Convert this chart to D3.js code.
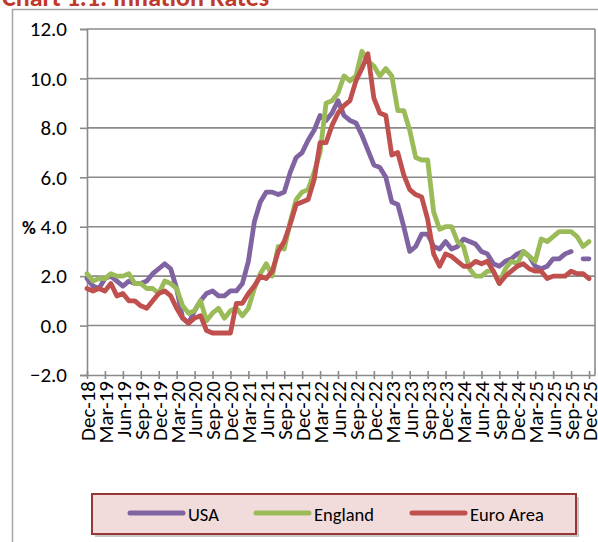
<!DOCTYPE html>
<html>
<head>
<meta charset="utf-8">
<script src="https://cdn.jsdelivr.net/npm/d3@7/dist/d3.min.js"></script>
<style>
  body { margin: 0; background: #fff; }
  svg { display: block; font-family: Carlito, Lato, "Open Sans", sans-serif; }
</style>
</head>
<body>
<div id="chart"></div>
<script>
const WIDTH = 598;
const HEIGHT = 542;

// monthly categories Dec-18 .. Dec-25
const months = d3.timeMonth.range(new Date(2018, 11, 1), new Date(2026, 0, 2)).map(d3.timeFormat("%b-%y"));
const yTicks = [-2, 0, 2, 4, 6, 8, 10, 12];

const usa = [
  1.9, 1.6, 1.5, 1.9, 2.0, 1.8, 1.6, 1.8, 1.7, 1.7, 1.8, 2.1,
  2.3, 2.5, 2.3, 1.5, 0.3, 0.1, 0.6, 1.0, 1.3, 1.4, 1.2, 1.2,
  1.4, 1.4, 1.7, 2.6, 4.2, 5.0, 5.4, 5.4, 5.3, 5.4, 6.2, 6.8,
  7.0, 7.5, 7.9, 8.5, 8.3, 8.6, 9.1, 8.5, 8.3, 8.2, 7.7, 7.1,
  6.5, 6.4, 6.0, 5.0, 4.9, 4.0, 3.0, 3.2, 3.7, 3.7, 3.2, 3.1,
  3.4, 3.1, 3.2, 3.5, 3.4, 3.3, 3.0, 2.9, 2.5, 2.4, 2.6, 2.7,
  2.9, 3.0, 2.8, 2.4, 2.3, 2.4, 2.7, 2.7, 2.9, 3.0, null, 2.7,
  2.7
];
const england = [
  2.1, 1.8, 1.9, 1.9, 2.1, 2.0, 2.0, 2.1, 1.7, 1.7, 1.5, 1.5,
  1.3, 1.8, 1.7, 1.5, 0.8, 0.5, 0.6, 1.0, 0.2, 0.5, 0.7, 0.3,
  0.6, 0.7, 0.4, 0.7, 1.5, 2.1, 2.5, 2.0, 3.2, 3.1, 4.2, 5.1,
  5.4, 5.5, 6.2, 7.0, 9.0, 9.1, 9.4, 10.1, 9.9, 10.1, 11.1, 10.7,
  10.5, 10.1, 10.4, 10.1, 8.7, 8.7, 7.9, 6.8, 6.7, 6.7, 4.6, 3.9,
  4.0, 4.0, 3.4, 3.2, 2.3, 2.0, 2.0, 2.2, 2.2, 1.7, 2.3, 2.6,
  2.5, 3.0, 2.8, 2.6, 3.5, 3.4, 3.6, 3.8, 3.8, 3.8, 3.6, 3.2,
  3.4
];
const euroArea = [
  1.5, 1.4, 1.5, 1.4, 1.7, 1.2, 1.3, 1.0, 1.0, 0.8, 0.7, 1.0,
  1.3, 1.4, 1.2, 0.7, 0.3, 0.1, 0.3, 0.4, -0.2, -0.3, -0.3, -0.3,
  -0.3, 0.9, 0.9, 1.3, 1.6, 2.0, 1.9, 2.2, 3.0, 3.4, 4.1, 4.9,
  5.0, 5.1, 5.9, 7.4, 7.4, 8.1, 8.6, 8.9, 9.1, 9.9, 10.4, 11.0,
  9.2, 8.6, 8.5, 6.9, 7.0, 6.1, 5.5, 5.3, 5.2, 4.3, 2.9, 2.4,
  2.9, 2.8, 2.6, 2.4, 2.4, 2.6, 2.5, 2.6, 2.2, 1.7, 2.0, 2.2,
  2.4, 2.5, 2.3, 2.2, 2.2, 1.9, 2.0, 2.0, 2.0, 2.2, 2.1, 2.1,
  1.9
];

const series = [
  { name: "USA", values: usa, color: "#8064A2" },
  { name: "England", values: england, color: "#9BBB59" },
  { name: "Euro Area", values: euroArea, color: "#C0504D" },
];

const plot = { left: 87, right: 595, top: 29, bottom: 375 };
const GRID = "#8a8a8a";
const AXIS_FONT = 21;

const svg = d3.select("#chart").append("svg").attr("width", WIDTH).attr("height", HEIGHT);

// title, mostly cut off at the top
svg.append("text")
  .attr("x", 2).attr("y", 6)
  .attr("fill", "#C0392B")
  .attr("font-weight", "bold")
  .attr("font-size", 26)
  .text("Chart 1.1: Inflation Rates");

// outer frame
svg.append("path")
  .attr("d", `M12.5,${HEIGHT + 2} V9.5 H${WIDTH + 2}`)
  .attr("fill", "none")
  .attr("stroke", "#a6a6a6")
  .attr("stroke-width", 1.5);

const x = d3.scalePoint().domain(months).range([plot.left, plot.right]);
const y = d3.scaleLinear().domain([-2, 12]).range([plot.bottom, plot.top]);

// gridlines
svg.append("g")
  .selectAll("line")
  .data(yTicks.filter((d) => d > -2))
  .join("line")
  .attr("x1", plot.left).attr("x2", plot.right)
  .attr("y1", (d) => y(d)).attr("y2", (d) => y(d))
  .attr("stroke", GRID).attr("stroke-width", 1.6);

// right edge
svg.append("line")
  .attr("x1", plot.right).attr("x2", plot.right)
  .attr("y1", plot.top).attr("y2", plot.bottom)
  .attr("stroke", GRID).attr("stroke-width", 1.6);

// y axis
const yAxis = svg.append("g")
  .attr("transform", `translate(${plot.left},0)`)
  .call(d3.axisLeft(y).tickValues(yTicks).tickFormat(d3.format(".1f")).tickSize(7).tickPadding(13));
yAxis.select(".domain").attr("stroke", GRID).attr("stroke-width", 1.6);
yAxis.selectAll(".tick line").attr("stroke", GRID).attr("stroke-width", 1.6);
yAxis.selectAll(".tick text").attr("font-size", AXIS_FONT).attr("fill", "#000")
  .attr("font-family", "Carlito, Lato, sans-serif");

svg.append("text")
  .attr("x", 29).attr("y", y(4) + 1)
  .attr("text-anchor", "middle").attr("dominant-baseline", "central")
  .attr("font-size", 19).attr("font-weight", "bold")
  .text("%");

// x axis
const shownMonths = months.filter((d, i) => i % 3 === 0);
const xAxis = svg.append("g")
  .attr("transform", `translate(0,${plot.bottom})`)
  .call(d3.axisBottom(x).tickValues(shownMonths).tickSize(0));
xAxis.select(".domain").attr("stroke", GRID).attr("stroke-width", 1.6);
xAxis.selectAll(".tick line")
  .attr("y1", -4).attr("y2", 4)
  .attr("stroke", GRID).attr("stroke-width", 1.6);
xAxis.selectAll(".tick text")
  .attr("font-size", AXIS_FONT).attr("fill", "#000")
  .attr("font-family", "Carlito, Lato, sans-serif")
  .attr("text-anchor", "end")
  .attr("transform", "rotate(-90)")
  .attr("x", -6).attr("y", 0).attr("dy", "0.35em");

// lines
const line = d3.line()
  .defined((d) => d != null)
  .x((d, i) => x(months[i]))
  .y((d) => y(d));

svg.append("g")
  .selectAll("path")
  .data(series)
  .join("path")
  .attr("d", (s) => line(s.values))
  .attr("fill", "none")
  .attr("stroke", (s) => s.color)
  .attr("stroke-width", 4.8)
  .attr("stroke-linejoin", "round")
  .attr("stroke-linecap", "round");

// legend
const legendBox = { x: 92, y: 494, w: 484, h: 40 };
svg.append("rect")
  .attr("x", legendBox.x + 3).attr("y", legendBox.y + 3)
  .attr("width", legendBox.w).attr("height", legendBox.h)
  .attr("fill", "#c8c8c8");
svg.append("rect")
  .attr("x", legendBox.x).attr("y", legendBox.y)
  .attr("width", legendBox.w).attr("height", legendBox.h)
  .attr("fill", "#F2DCDB")
  .attr("stroke", "#953735")
  .attr("stroke-width", 2);

const legendX = [130, 256, 412];
const legendItem = svg.append("g")
  .selectAll("g")
  .data(series)
  .join("g")
  .attr("transform", (d, i) => `translate(${legendX[i]},${legendBox.y + 19})`);
legendItem.append("line")
  .attr("x1", 0).attr("x2", 53)
  .attr("stroke", (d) => d.color)
  .attr("stroke-width", 5)
  .attr("stroke-linecap", "round");
legendItem.append("text")
  .attr("x", 58).attr("y", 1)
  .attr("dominant-baseline", "central")
  .attr("font-size", 18.5)
  .text((d) => d.name);
</script>
</body>
</html>
